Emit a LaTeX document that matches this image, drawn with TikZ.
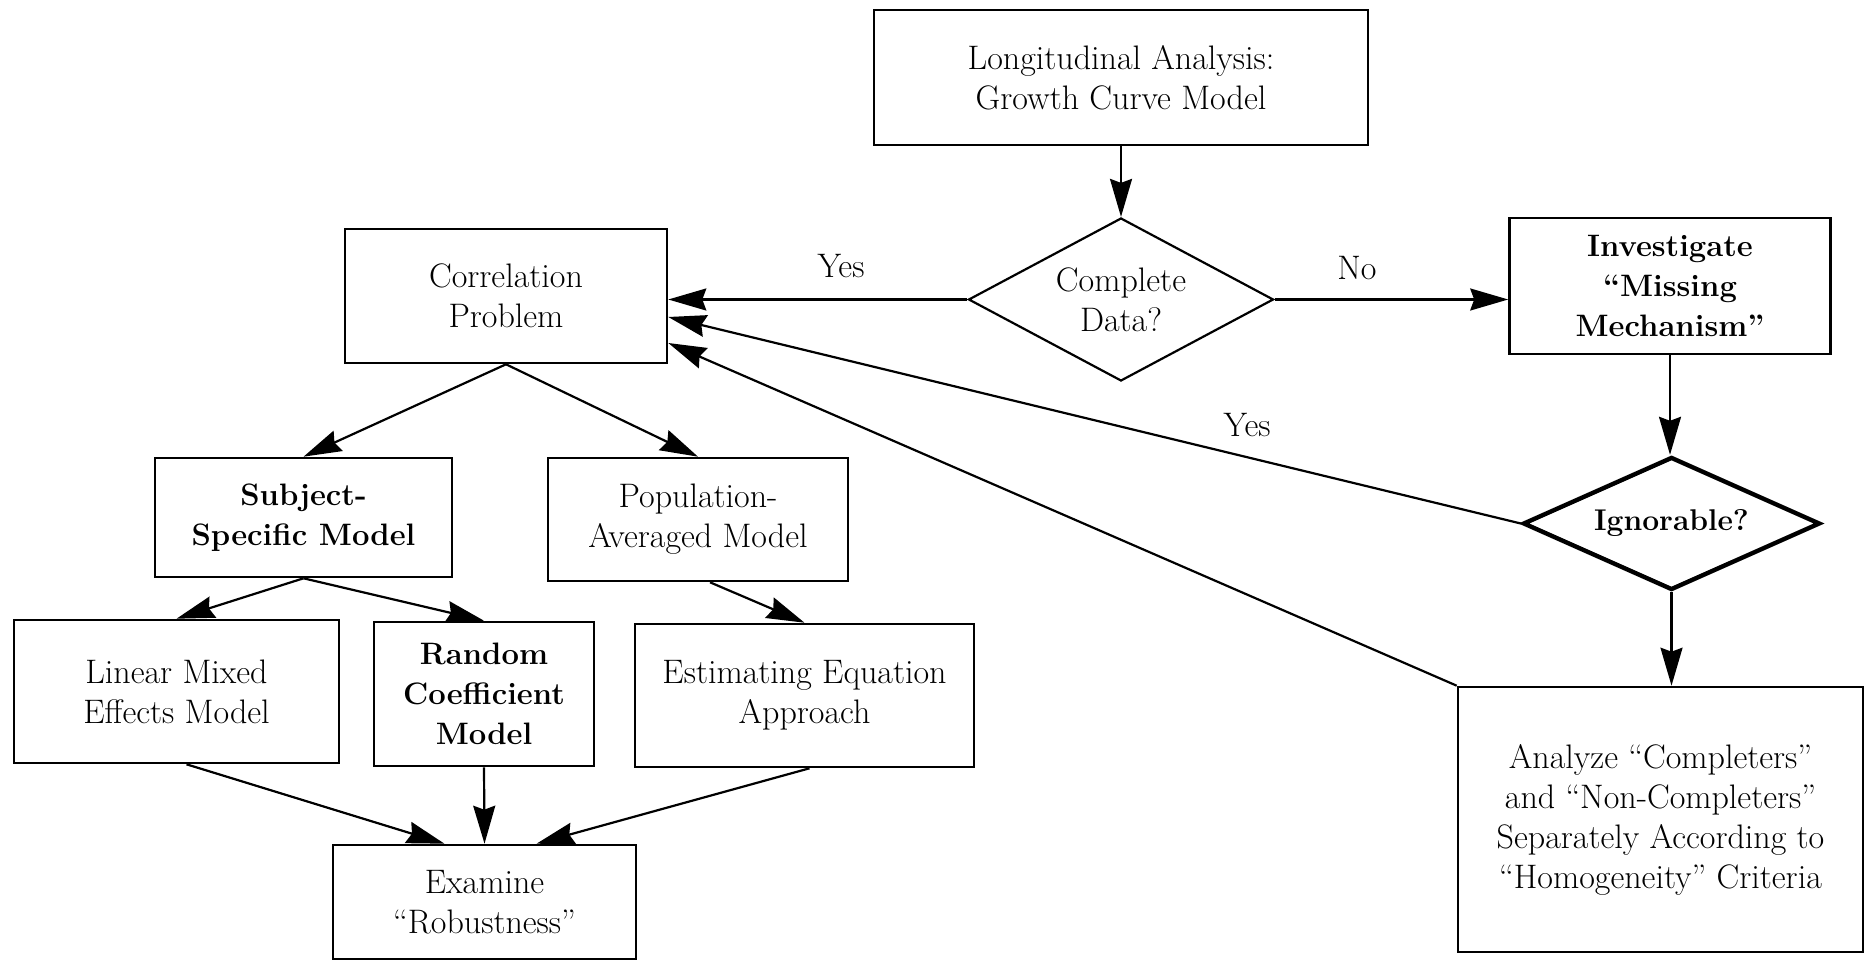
\documentclass[tikz,border=0pt]{standalone}
\usepackage{fontspec}
\usetikzlibrary{arrows.meta,shapes.geometric,calc}
\begin{document}
\begin{tikzpicture}[x=0.5pt,y=-0.5pt,
  box/.style={draw, line width=1.3pt, rectangle, align=center, inner sep=0pt, font=\fontsize{17}{20}\selectfont},
  bbox/.style={box, font=\fontsize{15.5}{20}\selectfont\bfseries},
  dec/.style={draw, diamond, align=center, inner sep=0pt},
  conn/.style={line width=1.1pt, -{Stealth[length=19pt,width=11pt,inset=2pt]}},
  lbl/.style={font=\fontsize{17}{20}\selectfont}]
\useasboundingbox (0,0) rectangle (1867,961);
% boxes
\node[box, minimum width=247pt, minimum height=67.5pt] (long) at (1121,77.5) {Longitudinal Analysis:\\Growth Curve Model};
\node[box, minimum width=161pt, minimum height=67pt] (corr) at (506,296) {Correlation\\Problem};
\node[bbox, minimum width=160.5pt, minimum height=68pt] (inv) at (1670,286) {Investigate\\“Missing\\Mechanism”};
\node[bbox, minimum width=148.5pt, minimum height=59.5pt] (subj) at (303.5,517.5) {Subject-\\Specific Model};
\node[box, minimum width=150pt, minimum height=61.5pt] (pop) at (698,519.5) {Population-\\Averaged Model};
\node[box, minimum width=162.5pt, minimum height=71.5pt] (lin) at (176.5,691.5) {Linear Mixed\\Effects Model};
\node[bbox, minimum width=110pt, minimum height=72pt] (rand) at (484,694) {Random\\Coefficient\\Model};
\node[box, minimum width=169.5pt, minimum height=71.5pt] (est) at (804.5,695.5) {Estimating Equation\\Approach};
\node[box, minimum width=151.5pt, minimum height=57pt] (exam) at (484.5,902) {Examine\\“Robustness”};
\node[box, minimum width=202.5pt, minimum height=132.5pt] (anal) at (1660.5,819.5) {Analyze “Completers”\\and “Non-Completers”\\Separately According to\\“Homogeneity” Criteria};
% decisions
\node[dec, line width=1.1pt, shape aspect=1.87, minimum width=152.5pt, minimum height=81.5pt, font=\fontsize{17}{20}\selectfont] (cd) at (1121,299.5) {Complete\\Data?};
\node[dec, line width=2.2pt, shape aspect=2.23, minimum width=148.5pt, minimum height=66.5pt, font=\fontsize{15}{18}\selectfont\bfseries] (ign) at (1671.5,523.5) {Ignorable?};
% labels
\node[lbl] (yes1) at (841,266) {Yes};
\node[lbl] (no1) at (1357,268) {No};
\node[lbl] (yes2) at (1247,425) {Yes};
% connectors
\draw[conn] (long.south) -- (cd.north);
\draw[conn] (cd.west) -- (cd.west -| corr.east);
\draw[conn] (cd.east) -- (cd.east -| inv.west);
\draw[conn] (inv.south) -- (inv.south |- ign.north);
\draw[conn] (ign.south) -- (anal.north -| ign.south);
\draw[conn] (ign.west) -- ($(corr.east)+(0,21)$);
\draw[conn] (anal.north west) -- ($(corr.east)+(0,47)$);
\draw[conn] (corr.south) -- (subj.north);
\draw[conn] (corr.south) -- (pop.north);
\draw[conn] (subj.south) -- (lin.north);
\draw[conn] (subj.south) -- (rand.north);
\draw[conn] ($(pop.south)+(12,0)$) -- (est.north);
\draw[conn] ($(lin.south)+(10,0)$) -- ($(exam.north)+(-40,0)$);
\draw[conn] (rand.south) -- (exam.north);
\draw[conn] ($(est.south)+(5,0)$) -- ($(exam.north)+(52,0)$);
\end{tikzpicture}
\end{document}
